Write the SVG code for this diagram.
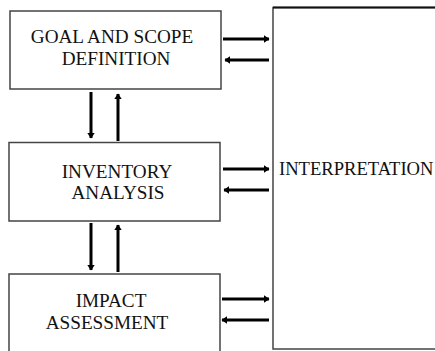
<svg xmlns="http://www.w3.org/2000/svg" width="435" height="351" viewBox="0 0 435 351">
<defs>
<marker id="ah" markerUnits="userSpaceOnUse" markerWidth="8" markerHeight="9" refX="5" refY="4.5" orient="auto">
<path d="M0,0.8 L5.5,4.5 L0,8.2 Z" fill="#000"/>
</marker>
</defs>
<style>
.box{fill:#fff;stroke:#444;stroke-width:1.5}
.t{font-size:19.2px;fill:#111;text-anchor:middle}
.c{stroke:#000;stroke-width:3;fill:none;marker-end:url(#ah)}
</style>
<rect width="435" height="351" fill="#fff"/>
<g font-family="'Liberation Serif', 'DejaVu Serif', serif">
<g id="interpretation">
<rect class="box" x="273" y="7.5" width="170" height="341.5"/>
<line x1="273" y1="7.5" x2="435" y2="7.5" stroke="#111" stroke-width="2"/>
<text class="t" x="279" y="175" text-anchor="start" style="text-anchor:start;font-size:18.6px">INTERPRETATION</text>
</g>
<g id="goal">
<rect class="box" x="10" y="11" width="211" height="78"/>
<text class="t" x="112" y="43">GOAL AND SCOPE</text>
<text class="t" x="116" y="65">DEFINITION</text>
</g>
<g id="inventory">
<rect class="box" x="9" y="142.5" width="211" height="78.5"/>
<text class="t" x="117" y="178">INVENTORY</text>
<text class="t" x="118" y="199">ANALYSIS</text>
</g>
<g id="impact">
<rect class="box" x="9" y="274" width="211" height="80"/>
<text class="t" x="111" y="307">IMPACT</text>
<text class="t" x="107" y="329">ASSESSMENT</text>
</g>
</g>
<g id="connectors">
<line class="c" x1="91" y1="92" x2="91" y2="138"/>
<line class="c" x1="118" y1="141" x2="118" y2="94"/>
<line class="c" x1="91" y1="223" x2="91" y2="270"/>
<line class="c" x1="118" y1="272" x2="118" y2="225"/>
<line class="c" x1="223" y1="39" x2="269" y2="39"/>
<line class="c" x1="269" y1="60" x2="225" y2="60"/>
<line class="c" x1="223" y1="169" x2="269" y2="169"/>
<line class="c" x1="269" y1="190" x2="224" y2="190"/>
<line class="c" x1="222" y1="299" x2="269" y2="299"/>
<line class="c" x1="269" y1="320" x2="222" y2="320"/>
</g>
</svg>
